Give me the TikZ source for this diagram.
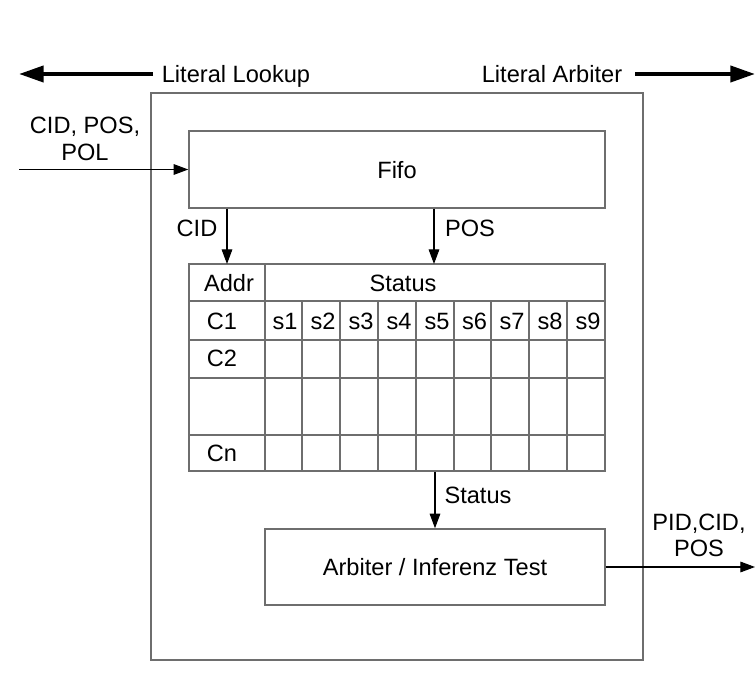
\documentclass[tikz,border=0pt]{standalone}
\usepackage{fontspec}
\setmainfont{Liberation Sans}
\usetikzlibrary{arrows.meta}
\definecolor{boxgray}{HTML}{6E6E6E}
\tikzset{>=stealth}
\tikzset{%
    box/.style={draw=boxgray,line width=1.1pt,inner sep=0pt},
    gridline/.style={boxgray,line width=1.1pt},
    lbl/.style={inner sep=0pt,text height=12.7pt,text depth=0pt},
    arr/.style={-{Triangle[length=11pt,width=8pt]},line width=0.8pt},
    bigarr/.style={-{Triangle[length=18.5pt,width=12pt]},line width=3pt}
}

\begin{document}
\begin{tikzpicture}[x=0.75pt,y=-0.75pt,font=\fontsize{17.7}{21}\selectfont]
	\useasboundingbox (0,0) rectangle (756,680);

	% blocks
	\node[box,minimum width=369pt,minimum height=425.25pt] (unit) at (397,376.5) {};
	\node[box,minimum width=312pt,minimum height=57.75pt] (fifo) at (397,169.5) {};
	\node[lbl] (fifotxt) at (397,170) {Fifo};
	\node[box,minimum width=255pt,minimum height=57pt] (arb) at (435,567) {};
	\node[lbl] (arbtxt) at (435,567) {Arbiter / Inferenz Test};

	% table
	\node[box,minimum width=312pt,minimum height=155.25pt] (tbl) at (397,367.5) {};
	\foreach \y in {301,340,378,435}
		\draw[gridline] (189,\y) -- (605,\y);
	\draw[gridline] (265,264) -- (265,471);
	\foreach \x in {302,340,378,416,454,491,529,567}
		\draw[gridline] (\x,301) -- (\x,471);

	\node[lbl] (addr) at (229,283) {Addr};
	\node[lbl] (status) at (403,283) {Status};
	\node[lbl] (c1) at (222,321) {C1};
	\node[lbl] (c2) at (222,358) {C2};
	\node[lbl] (cn) at (222,453) {Cn};
	\foreach \i/\x in {1/285,2/323,3/361,4/399,5/437,6/474.5,7/512,8/550,9/588}
		\node[lbl] (s\i) at (\x,321) {s\i};

	% top arrows
	\node[lbl] (lookup) at (236,74.5) {Literal Lookup};
	\node[lbl] (arbiter) at (552,74.5) {Literal Arbiter};
	\coordinate (lookA) at (153,74);
	\coordinate (lookB) at (19,74);
	\coordinate (arbA) at (635,74);
	\coordinate (arbB) at (755,74);
	\draw[bigarr] (lookA) -- (lookB);
	\draw[bigarr] (arbA) -- (arbB);

	% input
	\coordinate (in) at (19,169.5);
	\node[lbl] (inA) at (85,125) {CID, POS,};
	\node[lbl] (inB) at (85,152) {POL};
	\draw[arr] (in) -- (fifo.west);

	% fifo to table
	\coordinate (cid) at (227,264);
	\coordinate (pos) at (434,264);
	\draw[arr] (fifo.south -| cid) -- (cid);
	\draw[arr] (fifo.south -| pos) -- (pos);
	\node[lbl] (cidtxt) at (197,228) {CID};
	\node[lbl] (postxt) at (470,228) {POS};

	% table to arbiter
	\draw[arr] (tbl.south -| arb.north) -- (arb.north);
	\node[lbl] (sttxt) at (478,495) {Status};

	% output
	\coordinate (out) at (755,567);
	\draw[arr] (arb.east) -- (out);
	\node[lbl] (outA) at (699,522) {PID,CID,};
	\node[lbl] (outB) at (699,548) {POS};
\end{tikzpicture}
\end{document}
